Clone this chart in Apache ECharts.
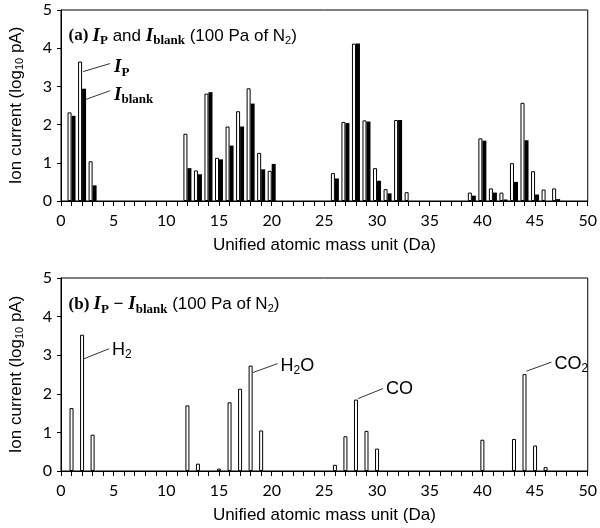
<!DOCTYPE html>
<html>
<head>
<meta charset="utf-8">
<script src="https://cdn.jsdelivr.net/npm/echarts@6/dist/echarts.min.js"></script>
<style>
  html, body { margin: 0; padding: 0; background: #fff; }
  #chart { width: 600px; height: 528px; }
</style>
</head>
<body>
<div id="chart"></div>
<script>
// (a) I_P and I_blank
const massTop = [1, 2, 3, 12, 13, 14, 15, 16, 17, 18, 19, 20, 26, 27, 28, 29, 30, 31, 32, 33, 39, 40, 41, 42, 43, 44, 45, 46, 47]
const ipValues = [2.32, 3.65, 1.04, 1.76, 0.80, 2.81, 1.13, 1.95, 2.35, 2.95, 1.26, 0.79, 0.73, 2.07, 4.12, 2.11, 0.86, 0.31, 2.12, 0.23, 0.22, 1.64, 0.33, 0.22, 0.99, 2.57, 0.78, 0.30, 0.33]
const blankValues = [2.23, 2.94, 0.41, 0.86, 0.70, 2.85, 1.09, 1.45, 1.95, 2.55, 0.83, 0.97, 0.59, 2.04, 4.12, 2.08, 0.53, 0.20, 2.12, 0, 0.14, 1.58, 0.22, 0.04, 0.50, 1.59, 0.17, 0, 0.05]

// (b) I_P - I_blank
const massDiff = [1, 2, 3, 12, 13, 15, 16, 17, 18, 19, 26, 27, 28, 29, 30, 40, 43, 44, 45, 46]
const diffValues = [1.63, 3.53, 0.94, 1.70, 0.19, 0.06, 1.78, 2.13, 2.73, 1.05, 0.16, 0.90, 1.85, 1.04, 0.58, 0.81, 0.83, 2.51, 0.66, 0.10]

const xTicks = [0, 5, 10, 15, 20, 25, 30, 35, 40, 45, 50]
const yTicks = [0, 1, 2, 3, 4, 5]

const sans = '"Liberation Sans", Arial, sans-serif'
const serif = '"Liberation Serif", "Times New Roman", serif'
const tickFont = 'Lato, "Open Sans", sans-serif'

const pairs = (xs, ys) => xs.map((x, i) => [x, ys[i]])

function xAxisFor(gridIndex) {
  return {
    type: 'value', gridIndex, min: 0, max: 50, interval: 5,
    name: 'Unified atomic mass unit (Da)', nameLocation: 'middle', nameGap: 36,
    nameTextStyle: { fontFamily: sans, fontSize: 17, color: '#000' },
    axisLine: { onZero: false, lineStyle: { color: '#000', width: 1 } },
    axisTick: { show: true, inside: false, length: 5, lineStyle: { color: '#000' } },
    minorTick: { show: true, splitNumber: 5, length: 5, lineStyle: { color: '#000' } },
    axisLabel: { fontFamily: tickFont, fontSize: 16, color: '#000', margin: 12,
      formatter: (v) => xTicks.includes(v) ? String(v) : '' },
    splitLine: { show: false }
  }
}

function yAxisFor(gridIndex) {
  return {
    type: 'value', gridIndex, min: 0, max: 5, interval: 1,
    name: 'Ion current (log{s|10} pA)', nameLocation: 'middle', nameGap: 36,
    nameTextStyle: { fontFamily: sans, fontSize: 17, color: '#000',
      rich: { s: { fontFamily: sans, fontSize: 11, verticalAlign: 'bottom' } } },
    axisLine: { show: true, lineStyle: { color: '#000', width: 1 } },
    axisTick: { show: true, inside: false, length: 4, lineStyle: { color: '#000' } },
    axisLabel: { fontFamily: tickFont, fontSize: 16, color: '#000', margin: 9,
      formatter: (v) => yTicks.includes(v) ? String(v) : '' },
    splitLine: { show: false }
  }
}

const whiteBar = { color: '#fff', borderColor: '#000', borderWidth: 1 }

const chart = echarts.init(document.getElementById('chart'), null, { renderer: 'canvas' })

chart.setOption({
  animation: false,
  backgroundColor: '#fff',
  grid: [
    { left: 61, right: 9, top: 10, height: 191, show: true, borderColor: '#000', borderWidth: 1, backgroundColor: 'transparent' },
    { left: 61, right: 9, top: 278, height: 193, show: true, borderColor: '#000', borderWidth: 1, backgroundColor: 'transparent' }
  ],
  xAxis: [xAxisFor(0), xAxisFor(1)],
  yAxis: [yAxisFor(0), yAxisFor(1)],
  series: [
    { name: 'IP', type: 'bar', xAxisIndex: 0, yAxisIndex: 0, barWidth: 4, barGap: '0%',
      itemStyle: whiteBar, data: pairs(massTop, ipValues) },
    { name: 'Iblank', type: 'bar', xAxisIndex: 0, yAxisIndex: 0, barWidth: 4, barGap: '0%',
      itemStyle: { color: '#000' }, data: pairs(massTop, blankValues) },
    { name: 'diff', type: 'bar', xAxisIndex: 1, yAxisIndex: 1, barWidth: 4,
      itemStyle: whiteBar, data: pairs(massDiff, diffValues) }
  ]
})

// rich text styles for panel titles and labels
const rich = {
  b: { fontFamily: serif, fontWeight: 'bold', fontSize: 17, color: '#000' },
  I: { fontFamily: serif, fontWeight: 'bold', fontStyle: 'italic', fontSize: 19, color: '#000' },
  bs: { fontFamily: serif, fontWeight: 'bold', fontSize: 13, color: '#000', padding: [10, 0, 0, 0] },
  t: { fontFamily: sans, fontSize: 17, color: '#000' },
  ts: { fontFamily: sans, fontSize: 11, color: '#000', padding: [10, 0, 0, 0] },
  L: { fontFamily: sans, fontSize: 18, color: '#000' },
  Ls: { fontFamily: sans, fontSize: 12, color: '#000', padding: [10, 0, 0, 0] },
  IL: { fontFamily: serif, fontWeight: 'bold', fontStyle: 'italic', fontSize: 19, color: '#000' },
  ILs: { fontFamily: serif, fontWeight: 'bold', fontSize: 13, color: '#000', padding: [10, 0, 0, 0] }
}

function txt(x, y, text) {
  return { type: 'text', x, y, style: { text, rich, verticalAlign: 'middle', align: 'left' } }
}
function leader(x1, y1, x2, y2) {
  return { type: 'line', shape: { x1, y1, x2, y2 }, style: { stroke: '#000', lineWidth: 0.8 } }
}

function px(grid, x, y) {
  return chart.convertToPixel({ gridIndex: grid }, [x, y])
}

const g = []
// panel titles
const a0 = px(0, 1, 4.5)
g.push(txt(a0[0] - 3, a0[1] + 7, '{b|(a) }{I|I}{bs|P}{t| and }{I|I}{bs|blank}{t| (100 Pa of N}{ts|2}{t|)}'))
const b0 = px(1, 1, 4.5)
g.push(txt(b0[0] - 3, b0[1] + 7, '{b|(b) }{I|I}{bs|P}{t| − }{I|I}{bs|blank}{t| (100 Pa of N}{ts|2}{t|)}'))

// I_P / I_blank leaders at mass 2
const ip2 = px(0, 2, ipValues[massTop.indexOf(2)])
g.push(leader(ip2[0] + 1, ip2[1] + 10, ip2[0] + 28, ip2[1] + 2))
g.push(txt(ip2[0] + 32, ip2[1] + 6, '{IL|I}{ILs|P}'))
const bl2 = px(0, 2, blankValues[massTop.indexOf(2)])
g.push(leader(bl2[0] + 3, bl2[1] + 11, bl2[0] + 28, bl2[1] + 2))
g.push(txt(bl2[0] + 32, bl2[1] + 6, '{IL|I}{ILs|blank}'))

// species labels in (b)
const species = [
  { m: 2, text: '{L|H}{Ls|2}', dy1: 24, dy2: 14, dyt: 15 },
  { m: 18, text: '{L|H}{Ls|2}{L|O}', dy1: 7, dy2: -2, dyt: 0 },
  { m: 28, text: '{L|CO}', dy1: -1, dy2: -11, dyt: -11 },
  { m: 44, text: '{L|CO}{Ls|2}', dy1: -3, dy2: -12, dyt: -10 }
]
species.forEach((s) => {
  const p = px(1, s.m, diffValues[massDiff.indexOf(s.m)])
  g.push(leader(p[0] + 2, p[1] + s.dy1, p[0] + 27, p[1] + s.dy2))
  g.push(txt(p[0] + 30, p[1] + s.dyt, s.text))
})

chart.setOption({ graphic: g })
</script>
</body>
</html>
